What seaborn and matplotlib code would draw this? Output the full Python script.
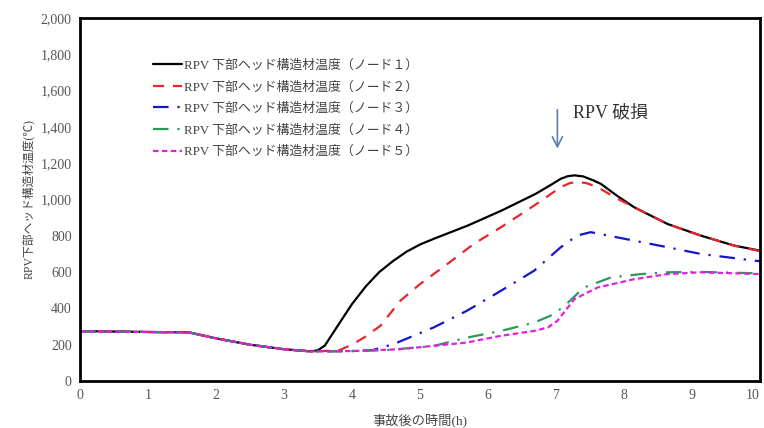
import numpy as np
import pandas as pd
import matplotlib
matplotlib.use("Agg")
import matplotlib.pyplot as plt
from matplotlib.ticker import FuncFormatter, MultipleLocator
import seaborn as sns

# time (h) and temperature (deg C)
x1 = [0, 1.0, 1.6, 2.0, 2.5, 3.0, 3.4, 3.5, 3.6, 3.8, 4.0, 4.2, 4.4, 4.6, 4.8, 5.0, 5.2, 5.7, 6.2, 6.7, 6.9, 7.07, 7.17, 7.27, 7.4, 7.55, 7.66, 7.9, 8.15, 8.64, 9.13, 9.62, 10.0]
y1 = [275, 270, 268, 235, 200, 175, 163, 170, 195, 310, 424, 520, 600, 660, 712, 752, 783, 856, 939, 1031, 1075, 1114, 1128, 1133, 1127, 1105, 1086, 1020, 957, 865, 801, 746, 718]

x2 = [0, 1.0, 1.6, 2.0, 2.5, 3.0, 3.4, 3.8, 4.0, 4.2, 4.42, 4.71, 5.0, 5.4, 5.79, 6.19, 6.68, 7.07, 7.2, 7.31, 7.45, 7.61, 7.9, 8.15, 8.64, 9.13, 9.62, 10.0]
y2 = [275, 270, 268, 235, 200, 175, 163, 168, 200, 245, 305, 442, 534, 644, 755, 847, 967, 1068, 1090, 1097, 1090, 1068, 1005, 957, 865, 801, 746, 715]

x3 = [0, 1.0, 1.6, 2.0, 2.5, 3.0, 3.4, 4.0, 4.3, 4.61, 5.2, 5.69, 6.19, 6.68, 7.07, 7.31, 7.51, 8.15, 8.64, 9.13, 9.92, 10.0]
y3 = [275, 270, 268, 235, 200, 175, 163, 165, 170, 203, 295, 387, 497, 608, 737, 801, 820, 773, 737, 700, 663, 660]

x4 = [0, 1.0, 1.6, 2.0, 2.5, 3.0, 3.4, 4.0, 4.5, 5.2, 5.69, 6.19, 6.68, 6.97, 7.17, 7.41, 7.81, 8.25, 8.64, 9.13, 10.0]
y4 = [275, 270, 268, 235, 200, 175, 163, 165, 170, 193, 239, 276, 322, 368, 430, 515, 571, 589, 599, 601, 593]

x5 = [0, 1.0, 1.6, 2.0, 2.5, 3.0, 3.4, 4.0, 4.7, 5.69, 6.19, 6.68, 6.88, 7.02, 7.27, 7.61, 8.15, 8.64, 9.13, 10.0]
y5 = [275, 270, 268, 235, 200, 175, 163, 165, 175, 212, 249, 276, 295, 331, 451, 515, 561, 589, 599, 589]

labels = ["RPV 下部ヘッド構造材温度（ノード１）",
          "RPV 下部ヘッド構造材温度（ノード２）",
          "RPV 下部ヘッド構造材温度（ノード３）",
          "RPV 下部ヘッド構造材温度（ノード４）",
          "RPV 下部ヘッド構造材温度（ノード５）"]

x_ticks = list(range(0, 11))

sns.set_style("white")
fonts = ["Liberation Serif", "Noto Sans CJK JP", "DejaVu Sans"]
plt.rcParams["font.family"] = fonts

fig = plt.figure(figsize=(7.64, 4.28), dpi=100)
ax = fig.add_axes([0.1047, 0.1098, 0.8901, 0.8482])

series = [
    (x1, y1, "black", "-"),
    (x2, y2, "#e8262a", (0, (5, 4))),
    (x3, y3, "#1414c8", (0, (7, 4, 1, 4))),
    (x4, y4, "#2a9a5c", (0, (7, 4, 1, 4))),
    (x5, y5, "#e020e0", (0, (2.5, 1.5))),
]
for (xs, ys, c, ls), lab in zip(series, labels):
    sns.lineplot(x=xs, y=ys, ax=ax, color=c, linestyle=ls, linewidth=1.6,
                 label=lab, sort=False, estimator=None)

ax.set_xlim(0, 10)
ax.set_ylim(0, 2000)
ax.set_xticks(x_ticks)
ax.set_xticklabels([str(t) for t in x_ticks])
ax.get_xticklabels()[-1].set_horizontalalignment("right")
ax.yaxis.set_major_locator(MultipleLocator(200))
ax.yaxis.set_major_formatter(FuncFormatter(lambda v, p: f"{v:,.0f}"))
ax.tick_params(direction="in", length=3, width=0.8, labelsize=10,
               colors="black", labelcolor="#555555", pad=6)
for s in ax.spines.values():
    s.set_color("black")
    s.set_linewidth(2)

ax.set_xlabel("事故後の時間(h)", fontsize=9.5, color="#444444", labelpad=8)
ax.set_ylabel("RPV下部ヘッド構造材温度(℃)", fontsize=8.5, color="#444444", labelpad=4)

# RPV failure marker
ax.annotate("", xy=(7.02, 1265), xytext=(7.02, 1510),
            arrowprops=dict(arrowstyle="->", color="#5b7fa8", lw=1.2,
                            mutation_scale=18))
ax.text(7.25, 1475, "RPV 破損", fontsize=13, color="#333333", va="center")

leg = ax.legend(loc="upper left", bbox_to_anchor=(0.1, 0.9), frameon=False,
                fontsize=9.3, handlelength=2.2, handletextpad=0.15,
                labelspacing=0.72, borderaxespad=0)
for t in leg.get_texts():
    t.set_color("#444444")

fig.savefig("out.png", dpi=100)
plt.close(fig)
